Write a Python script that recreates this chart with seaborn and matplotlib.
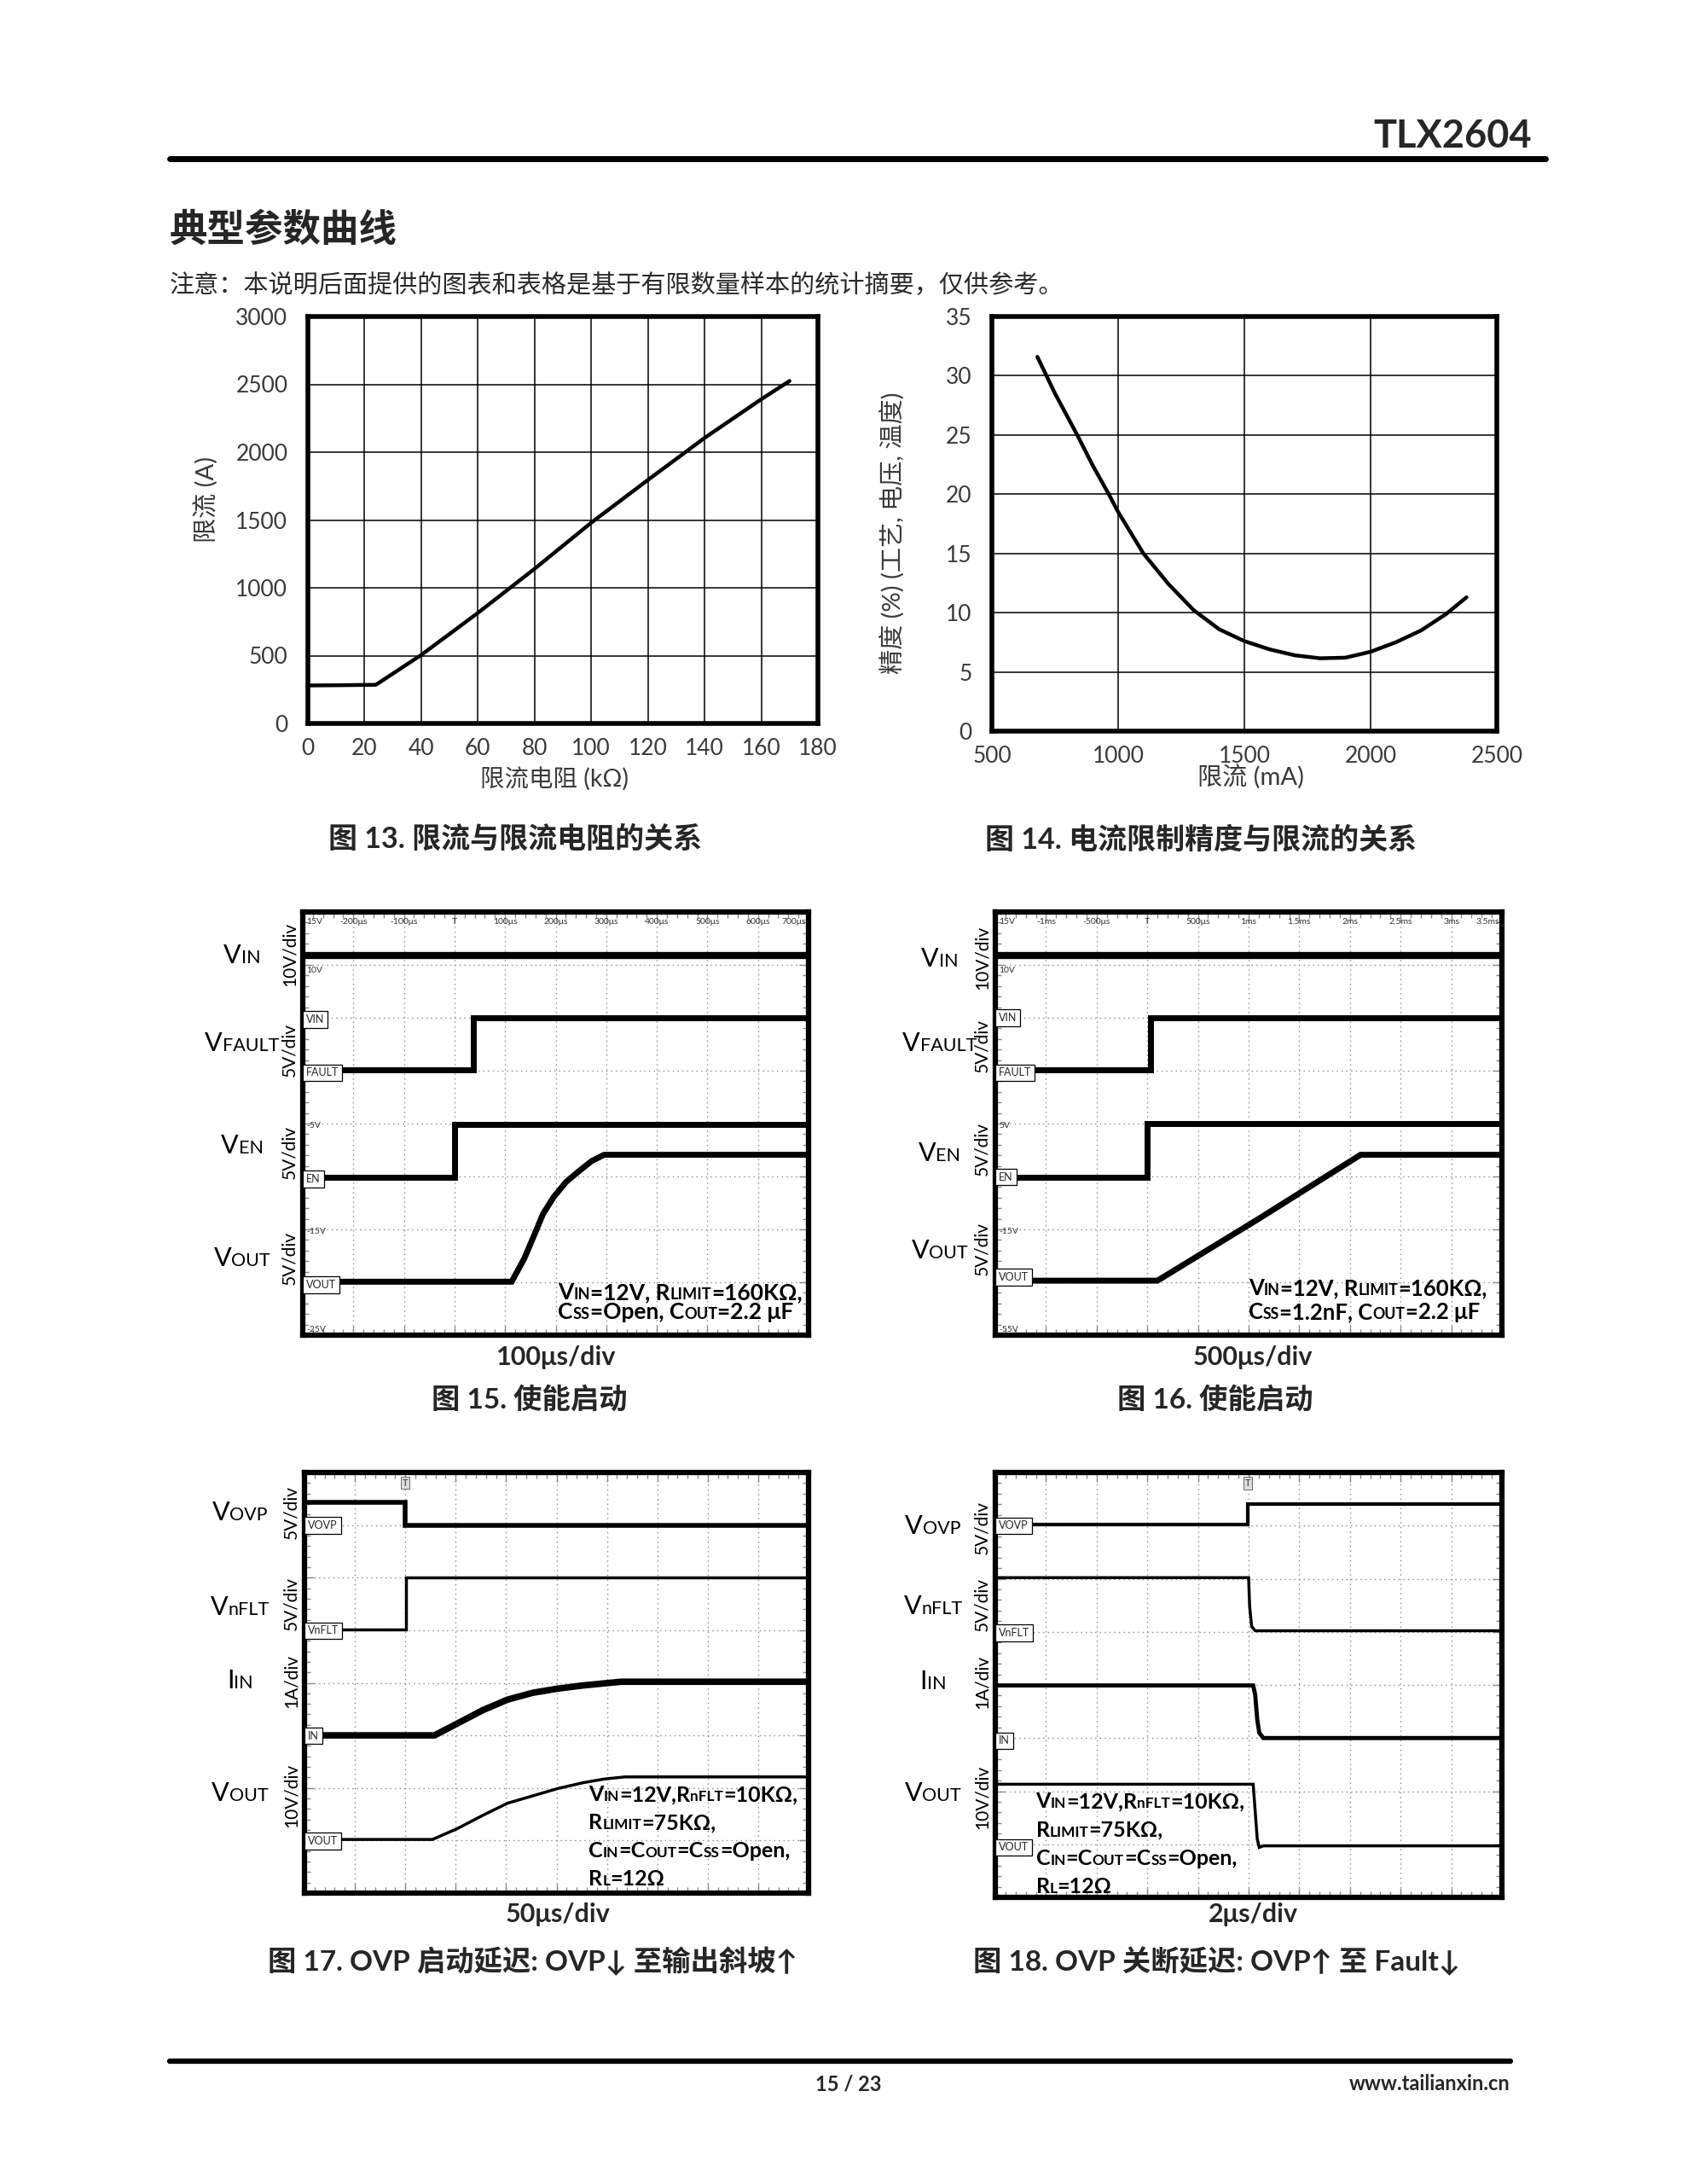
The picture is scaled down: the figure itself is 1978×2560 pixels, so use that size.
import matplotlib
matplotlib.use("Agg")
import matplotlib.pyplot as plt
import seaborn as sns
from matplotlib.lines import Line2D
from matplotlib.ticker import MultipleLocator
from matplotlib.offsetbox import TextArea, HPacker, VPacker, AnnotationBbox

# ---------------------------------------------------------------
# Data
# ---------------------------------------------------------------
# Fig 13: current limit vs limit resistor
R_LIMIT_KOHM = [0, 12, 24, 40, 60, 80, 100, 120, 140, 160, 170]
I_LIMIT_A = [280, 282, 285, 505, 815, 1140, 1480, 1795, 2105, 2390, 2525]

# Fig 14: current limit accuracy vs current limit
I_LIM_MA = [680, 750, 838, 900, 963, 1000, 1100, 1200, 1300, 1400, 1500, 1600,
            1700, 1800, 1900, 2000, 2100, 2200, 2300, 2380]
ACCURACY_PCT = [31.6, 28.5, 25.0, 22.4, 20.0, 18.5, 15.0, 12.4, 10.2, 8.6, 7.6, 6.9,
                6.4, 6.15, 6.2, 6.7, 7.5, 8.5, 9.9, 11.3]

# scope traces, in screen divisions (x 0..10, y 0..8)
S15_VIN_X, S15_VIN_Y = [0, 10], [7.18, 7.18]
S15_FAULT_X, S15_FAULT_Y = [0.54, 3.38, 3.38, 10], [5.01, 5.01, 6.0, 6.0]
S15_EN_X, S15_EN_Y = [0.31, 3.0, 3.0, 10], [2.99, 2.99, 3.98, 3.98]
S15_VOUT_X = [0.51, 4.13, 4.38, 4.58, 4.75, 4.96, 5.21, 5.46, 5.71, 5.96, 10]
S15_VOUT_Y = [1.01, 1.01, 1.45, 1.90, 2.29, 2.61, 2.90, 3.10, 3.29, 3.41, 3.41]

S16_VIN_X, S16_VIN_Y = [0, 10], [7.17, 7.17]
S16_FAULT_X, S16_FAULT_Y = [0.55, 3.06, 3.06, 10], [5.01, 5.01, 6.0, 6.0]
S16_EN_X, S16_EN_Y = [0.31, 2.99, 2.99, 10], [2.99, 2.99, 4.0, 4.0]
S16_VOUT_X = [0.51, 3.2, 5.2, 7.21, 10]
S16_VOUT_Y = [1.03, 1.03, 2.2, 3.41, 3.41]

S17_VOVP_X, S17_VOVP_Y = [0, 2.0, 2.0, 10], [7.43, 7.43, 7.0, 7.0]
S17_NFLT_X, S17_NFLT_Y = [0.54, 2.02, 2.02, 10], [5.02, 5.02, 6.01, 6.01]
S17_IIN_X = [0.27, 2.58, 3.04, 3.54, 4.03, 4.53, 5.03, 5.53, 6.28, 10]
S17_IIN_Y = [3.0, 3.0, 3.23, 3.48, 3.68, 3.81, 3.89, 3.95, 4.02, 4.02]
S17_VOUT_X = [0.54, 2.54, 3.04, 3.54, 4.03, 4.53, 5.03, 5.53, 5.95, 6.36, 10]
S17_VOUT_Y = [1.02, 1.02, 1.23, 1.48, 1.71, 1.85, 1.99, 2.10, 2.17, 2.21, 2.21]

S18_VOVP_X, S18_VOVP_Y = [0.52, 4.98, 4.98, 10], [7.02, 7.02, 7.41, 7.41]
S18_NFLT_X = [0, 5.0, 5.02, 5.06, 5.13, 10]
S18_NFLT_Y = [6.02, 6.02, 5.48, 5.10, 5.02, 5.02]
S18_IIN_X = [0, 5.09, 5.13, 5.17, 5.21, 5.29, 10]
S18_IIN_Y = [3.99, 3.99, 3.81, 3.35, 3.10, 3.0, 3.0]
S18_VOUT_X = [0, 5.09, 5.17, 5.21, 5.29, 10]
S18_VOUT_Y = [2.13, 2.13, 1.10, 0.94, 0.97, 0.97]

# scope screen annotations
S15_TOP = ["-200μs", "-100μs", "T", "100μs", "200μs", "300μs", "400μs", "500μs", "600μs", "700μs"]
S16_TOP = ["-1ms", "-500μs", "T", "500μs", "1ms", "1.5ms", "2ms", "2.5ms", "3ms", "3.5ms"]
S15_LEVELS = [("15V", 7.82), ("10V", 6.9), ("-5V", 3.96), ("-15V", 1.96), ("-25V", 0.1)]
S16_LEVELS = [("15V", 7.82), ("10V", 6.9), ("5V", 3.96), ("-15V", 1.96), ("-55V", 0.1)]

# ---------------------------------------------------------------
# Style / page setup
# ---------------------------------------------------------------
sns.set_theme(style="white")
FONTS = ["Lato", "Noto Sans CJK SC", "DejaVu Sans"]
plt.rcParams["font.family"] = FONTS
plt.rcParams["axes.unicode_minus"] = False

W, H = 1978, 2560
fig = plt.figure(figsize=(W / 100, H / 100), dpi=100)
fig.patch.set_facecolor("white")


def px_axes(left, top, right, bottom):
    return fig.add_axes([left / W, 1 - bottom / H, (right - left) / W, (bottom - top) / H])


def ftext(x, y, s, **kw):
    return fig.text(x / W, 1 - y / H, s, **kw)


def rich(parts, size, small, weight="normal"):
    # big / small caps pieces alternate, like "V" + "IN"
    kids = []
    for i, s in enumerate(parts):
        kids.append(TextArea(s, textprops=dict(fontsize=small if i % 2 else size,
                                               fontweight=weight, family=FONTS,
                                               color="black")))
    return HPacker(children=kids, align="baseline", pad=0, sep=0)


# header / footer
ftext(1796, 160, "TLX2604", fontsize=32.5, fontweight="bold", ha="right", va="center")
fig.add_artist(Line2D([199 / W, 1812 / W], [1 - 186 / H] * 2, lw=5, color="black"))
ftext(199, 268, "典型参数曲线", fontsize=32, fontweight="bold", ha="left", va="center")
ftext(199, 334, "注意：本说明后面提供的图表和表格是基于有限数量样本的统计摘要，仅供参考。",
      fontsize=21, color="#2a2a2a", ha="left", va="center")
fig.add_artist(Line2D([199 / W, 1771 / W], [1 - 2416 / H] * 2, lw=4.5, color="black"))
ftext(995, 2443, "15 / 23", fontsize=17, fontweight="bold", ha="center", va="center")
ftext(1771, 2443, "www.tailianxin.cn", fontsize=17, fontweight="bold", ha="right", va="center")


# ---------------------------------------------------------------
# Fig 13 / Fig 14 : line charts
# ---------------------------------------------------------------
def grid_chart(ax, x, y, xlim, xstep, ylim, ystep):
    sns.lineplot(x=x, y=y, ax=ax, color="black", lw=3.2, estimator=None, sort=False)
    ax.set_xlim(*xlim)
    ax.set_ylim(*ylim)
    ax.xaxis.set_major_locator(MultipleLocator(xstep))
    ax.yaxis.set_major_locator(MultipleLocator(ystep))
    ax.grid(True, color="black", lw=1.1)
    ax.set_axisbelow(True)
    for sp in ax.spines.values():
        sp.set_visible(True)
        sp.set_linewidth(4)
        sp.set_color("black")
    ax.tick_params(axis="both", length=0, labelsize=19, labelcolor="#3a3a3a")
    ax.tick_params(axis="x", pad=12)
    ax.tick_params(axis="y", pad=17)
    ax.set_xlabel("")
    ax.set_ylabel("")


ax13 = px_axes(361, 371, 959, 848)
grid_chart(ax13, R_LIMIT_KOHM, I_LIMIT_A, (0, 180), 20, (0, 3000), 500)
ax13.text(0.483, -0.136, "限流电阻 (kΩ)", transform=ax13.transAxes, fontsize=20.5,
          color="#3a3a3a", ha="center", va="center")
ax13.text(-0.198, 0.551, "限流 (A)", transform=ax13.transAxes, fontsize=21,
          color="#3a3a3a", ha="center", va="center", rotation=90)
ftext(604, 984, "图 13. 限流与限流电阻的关系", fontsize=24.5, fontweight="bold",
      ha="center", va="center")

ax14 = px_axes(1163, 371, 1755, 857)
grid_chart(ax14, I_LIM_MA, ACCURACY_PCT, (500, 2500), 500, (0, 35), 5)
ax14.text(0.513, -0.111, "限流 (mA)", transform=ax14.transAxes, fontsize=21,
          color="#3a3a3a", ha="center", va="center")
ax14.text(-0.198, 0.477, "精度 (%) (工艺, 电压, 温度)", transform=ax14.transAxes,
          fontsize=21, color="#3a3a3a", ha="center", va="center", rotation=90)
ftext(1408, 984, "图 14. 电流限制精度与限流的关系", fontsize=24.5, fontweight="bold",
      ha="center", va="center")


# ---------------------------------------------------------------
# Fig 15 - 18 : oscilloscope captures
# ---------------------------------------------------------------
def scope(box, traces, refs, chans, divs, chan_x, note, note_xy, note_size, note_sep,
          timebase, time_xy, caption, cap_xy, top=None, levels=None, trig=None):
    ax = px_axes(*box)
    ax.set_facecolor("white")
    for xs, ys, lw in traces:
        sns.lineplot(x=xs, y=ys, ax=ax, color="black", lw=lw, estimator=None,
                     sort=False, solid_joinstyle="miter")
    ax.set_xlim(0, 10)
    ax.set_ylim(0, 8)
    ax.xaxis.set_major_locator(MultipleLocator(1))
    ax.yaxis.set_major_locator(MultipleLocator(1))
    ax.xaxis.set_minor_locator(MultipleLocator(0.2))
    ax.yaxis.set_minor_locator(MultipleLocator(0.2))
    ax.grid(True, which="major", color="#8a8a8a", lw=1.0, linestyle=(0, (1, 3)))
    ax.set_axisbelow(True)
    ax.tick_params(which="both", direction="in", top=True, right=True, bottom=True,
                   left=True, labelbottom=False, labelleft=False, color="#8a8a8a",
                   width=1)
    ax.tick_params(which="major", length=8)
    ax.tick_params(which="minor", length=5)
    for sp in ax.spines.values():
        sp.set_visible(True)
        sp.set_linewidth(4.5)
        sp.set_color("black")
    ax.set_xlabel("")
    ax.set_ylabel("")

    for name, yv in refs:
        ax.text(0.07, yv, name, fontsize=9, ha="left", va="center", zorder=6,
                bbox=dict(boxstyle="square,pad=0.3", fc="white", ec="black", lw=0.9))
    if top:
        for i, s in enumerate(top):
            ax.text(i + 1 if i < 9 else 9.95, 7.82, s, fontsize=7.5, color="#333333",
                    ha="center" if i < 9 else "right", va="center")
    if levels:
        for s, yv in levels:
            ax.text(0.07, yv, s, fontsize=7.5, color="#333333", ha="left", va="center")
    if trig is not None:
        ax.text(trig, 7.8, "T", fontsize=8, color="#333333", ha="center", va="center",
                bbox=dict(boxstyle="square,pad=0.15", fc="#dddddd", ec="#555555", lw=0.6))

    for parts, fy in chans:
        lab = rich(parts, 22, 15.5)
        ax.add_artist(AnnotationBbox(lab, (chan_x, fy), xycoords="axes fraction",
                                     box_alignment=(0.5, 0.5), frameon=False))
    for s, fy in divs:
        ax.text(-0.026, fy, s, transform=ax.transAxes, rotation=90, fontsize=15,
                color="black", ha="center", va="center")

    lines = [rich(p, note_size, note_size * 0.69, "bold") for p in note]
    block = VPacker(children=lines, align="left", pad=0, sep=note_sep)
    ax.add_artist(AnnotationBbox(block, note_xy, xycoords="data",
                                 box_alignment=(0, 0.5), frameon=False, zorder=7))

    ftext(*time_xy, timebase, fontsize=22, fontweight="bold", ha="center", va="center")
    ftext(*cap_xy, caption, fontsize=24, fontweight="bold", ha="center", va="center")
    return ax


note_1516a = ["V", "IN", "=12V, R", "LIMIT", "=160KΩ,"]
note_1718 = [["V", "IN", "=12V,R", "nFLT", "=10KΩ,"],
             ["R", "LIMIT", "=75KΩ,"],
             ["C", "IN", "=C", "OUT", "=C", "SS", "=Open,"],
             ["R", "L", "=12Ω"]]

scope((355, 1069, 948, 1565),
      [(S15_VIN_X, S15_VIN_Y, 6), (S15_FAULT_X, S15_FAULT_Y, 5),
       (S15_EN_X, S15_EN_Y, 5), (S15_VOUT_X, S15_VOUT_Y, 5)],
      [("VIN", 5.97), ("FAULT", 4.96), ("EN", 2.95), ("VOUT", 0.95)],
      [(["V", "IN"], 0.897), (["V", "FAULT"], 0.69), (["V", "EN"], 0.447), (["V", "OUT"], 0.182)],
      [("10V/div", 0.90), ("5V/div", 0.674), ("5V/div", 0.433), ("5V/div", 0.182)],
      -0.12,
      [note_1516a, ["C", "SS", "=Open, C", "OUT", "=2.2 μF"]], (5.05, 0.62), 19, -1,
      "100μs/div", (652, 1591), "图 15. 使能启动", (621, 1640),
      top=S15_TOP, levels=S15_LEVELS)

scope((1167, 1069, 1761, 1565),
      [(S16_VIN_X, S16_VIN_Y, 6), (S16_FAULT_X, S16_FAULT_Y, 5),
       (S16_EN_X, S16_EN_Y, 5), (S16_VOUT_X, S16_VOUT_Y, 5)],
      [("VIN", 6.0), ("FAULT", 4.96), ("EN", 2.99), ("VOUT", 1.1)],
      [(["V", "IN"], 0.889), (["V", "FAULT"], 0.69), (["V", "EN"], 0.43), (["V", "OUT"], 0.20)],
      [("10V/div", 0.893), ("5V/div", 0.684), ("5V/div", 0.44), ("5V/div", 0.204)],
      -0.11,
      [note_1516a, ["C", "SS", "=1.2nF, C", "OUT", "=2.2 μF"]], (5.0, 0.66), 18.5, 3,
      "500μs/div", (1469, 1591), "图 16. 使能启动", (1425, 1640),
      top=S16_TOP, levels=S16_LEVELS)

scope((357, 1726, 948, 2219),
      [(S17_VOVP_X, S17_VOVP_Y, 4), (S17_NFLT_X, S17_NFLT_Y, 2.5),
       (S17_IIN_X, S17_IIN_Y, 5.5), (S17_VOUT_X, S17_VOUT_Y, 2.5)],
      [("VOVP", 6.99), ("VnFLT", 4.99), ("IN", 2.99), ("VOUT", 0.99)],
      [(["V", "OVP"], 0.905), (["V", "nFLT"], 0.68), (["I", "IN"], 0.506), (["V", "OUT"], 0.237)],
      [("5V/div", 0.905), ("5V/div", 0.688), ("1A/div", 0.504), ("10V/div", 0.233)],
      -0.128,
      note_1718, (5.64, 1.07), 18, 7,
      "50μs/div", (654, 2244), "图 17. OVP 启动延迟: OVP↓ 至输出斜坡↑", (624, 2299),
      trig=2.0)

scope((1167, 1726, 1761, 2224),
      [(S18_VOVP_X, S18_VOVP_Y, 3), (S18_NFLT_X, S18_NFLT_Y, 2.5),
       (S18_IIN_X, S18_IIN_Y, 3.5), (S18_VOUT_X, S18_VOUT_Y, 2.5)],
      [("VOVP", 7.0), ("VnFLT", 4.98), ("IN", 2.95), ("VOUT", 0.94)],
      [(["V", "OVP"], 0.874), (["V", "nFLT"], 0.685), (["I", "IN"], 0.508), (["V", "OUT"], 0.244)],
      [("5V/div", 0.87), ("5V/div", 0.689), ("1A/div", 0.507), ("10V/div", 0.236)],
      -0.123,
      note_1718, (0.8, 1.0), 18, 7.5,
      "2μs/div", (1469, 2244), "图 18. OVP 关断延迟: OVP↑ 至 Fault↓", (1426, 2299),
      trig=4.98)

fig.savefig("out.png", dpi=100, facecolor="white")
